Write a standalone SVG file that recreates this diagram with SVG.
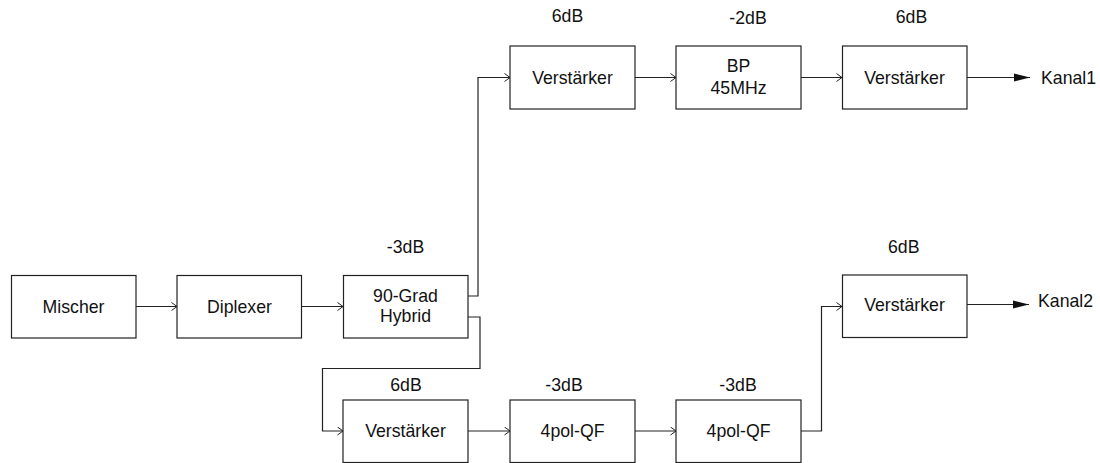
<svg xmlns="http://www.w3.org/2000/svg" width="1100" height="463" viewBox="0 0 1100 463">
<style>
.box{fill:#fff;stroke:#222;stroke-width:1.2}
.t{font-family:"Liberation Sans",Arial,sans-serif;font-size:17.7px;fill:#111;text-anchor:middle}
.tl{font-family:"Liberation Sans",Arial,sans-serif;font-size:17.7px;fill:#111}
.c{fill:none;stroke:#222;stroke-width:1.2}
</style>
<defs>
<marker id="open" markerUnits="userSpaceOnUse" viewBox="0 0 6 9" refX="6" refY="4.5" markerWidth="6" markerHeight="9" orient="auto">
<path d="M0.5,0.5 L6,4.5 L0.5,8.5" fill="none" stroke="#222" stroke-width="1"/>
</marker>
<marker id="filled" markerUnits="userSpaceOnUse" viewBox="0 0 16 9" refX="16" refY="4.5" markerWidth="16" markerHeight="9" orient="auto">
<path d="M0,0.5 L16,4.5 L0,8.5 Z" fill="#111"/>
</marker>
</defs>
<rect width="1100" height="463" fill="#fff"/>
<g id="connectors">
<path class="c" d="M136,306.5 H177" marker-end="url(#open)"/>
<path class="c" d="M302,306.5 H343" marker-end="url(#open)"/>
<path class="c" d="M468,296 H478 V77.5 H510" marker-end="url(#open)"/>
<path class="c" d="M468,317 H480 V368.5 H322.5 V431 H343" marker-end="url(#open)"/>
<path class="c" d="M635,77.5 H676" marker-end="url(#open)"/>
<path class="c" d="M801,77.5 H842" marker-end="url(#open)"/>
<path class="c" d="M967,77.5 H1030" marker-end="url(#filled)"/>
<path class="c" d="M468,431 H510" marker-end="url(#open)"/>
<path class="c" d="M635,431 H676" marker-end="url(#open)"/>
<path class="c" d="M801,431 H821.5 V306.5 H842" marker-end="url(#open)"/>
<path class="c" d="M967,304.5 H1029" marker-end="url(#filled)"/>
</g>
<g id="mischer"><rect class="box" x="11.5" y="275.5" width="124.5" height="62.5"/><text class="t" x="73.5" y="312.7">Mischer</text></g>
<g id="diplexer"><rect class="box" x="177" y="275.5" width="124.5" height="62.5"/><text class="t" x="239.5" y="312.7">Diplexer</text></g>
<g id="hybrid"><rect class="box" x="343.5" y="275.5" width="124.5" height="62.5"/><text class="t" x="405.5" y="301.5">90-Grad</text><text class="t" x="405.5" y="322">Hybrid</text><text class="t" x="405.5" y="253.3">-3dB</text></g>
<g id="verst1"><rect class="box" x="510" y="46" width="125" height="63"/><text class="t" x="572.5" y="84">Verstärker</text><text class="t" x="567.5" y="22">6dB</text></g>
<g id="bp"><rect class="box" x="676" y="46" width="125" height="63"/><text class="t" x="738.5" y="72">BP</text><text class="t" x="738.5" y="94">45MHz</text><text class="t" x="748" y="24">-2dB</text></g>
<g id="verst2"><rect class="box" x="842.5" y="46" width="124.5" height="63"/><text class="t" x="904.5" y="84">Verstärker</text><text class="t" x="911.5" y="23">6dB</text></g>
<g id="kanal1"><text class="tl" x="1041" y="83.5">Kanal1</text></g>
<g id="verst3"><rect class="box" x="842.5" y="275" width="124.5" height="62.5"/><text class="t" x="904.5" y="311">Verstärker</text><text class="t" x="903.7" y="252.7">6dB</text></g>
<g id="kanal2"><text class="tl" x="1038" y="307.3">Kanal2</text></g>
<g id="verst4"><rect class="box" x="343" y="400" width="125" height="62.5"/><text class="t" x="405.5" y="437">Verstärker</text><text class="t" x="406" y="391">6dB</text></g>
<g id="qf1"><rect class="box" x="510" y="400" width="125" height="62.5"/><text class="t" x="572.5" y="437">4pol-QF</text><text class="t" x="564" y="391">-3dB</text></g>
<g id="qf2"><rect class="box" x="676" y="400" width="125" height="62.5"/><text class="t" x="738.5" y="437">4pol-QF</text><text class="t" x="738" y="391">-3dB</text></g>
</svg>
